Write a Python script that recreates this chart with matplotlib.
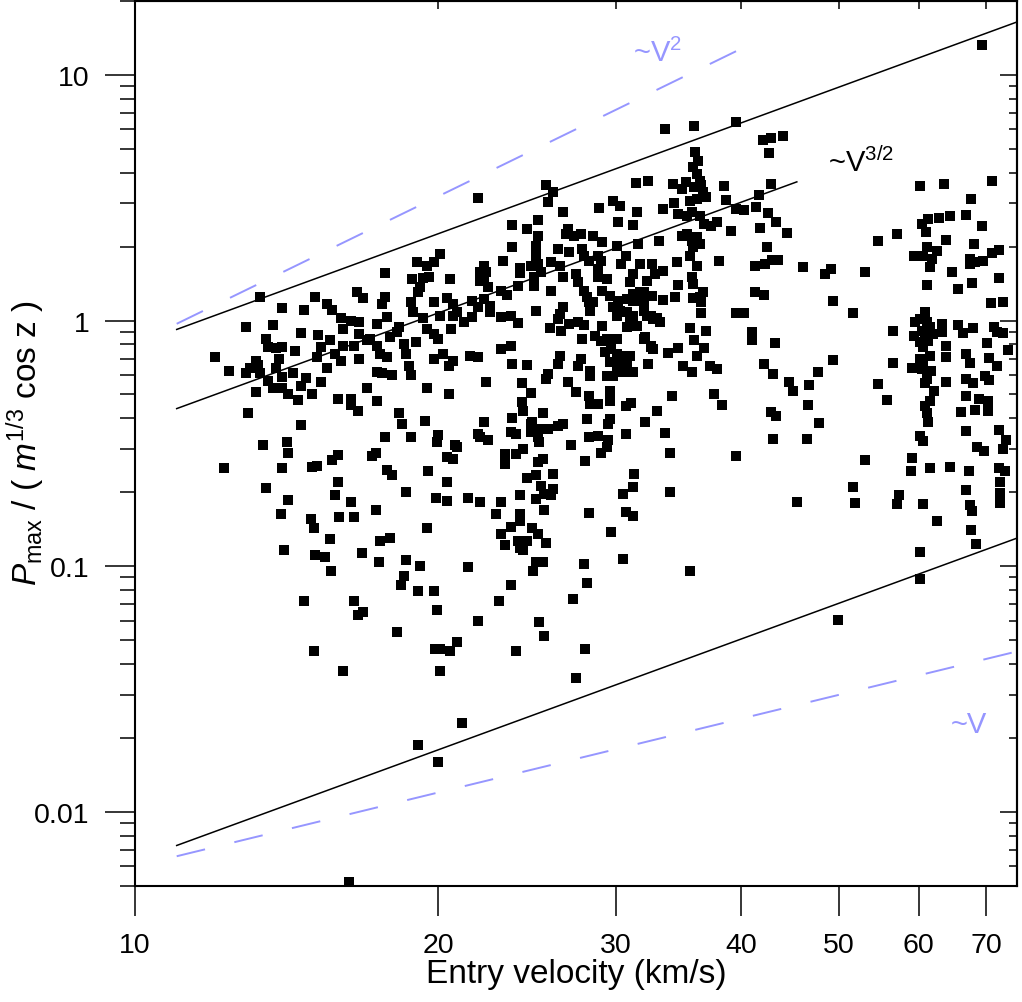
import matplotlib
matplotlib.use("Agg")
import matplotlib.pyplot as plt
from matplotlib.ticker import NullLocator, LogLocator, FixedLocator, NullFormatter

plt.rcParams['font.family'] = ['Liberation Sans', 'DejaVu Sans']
plt.rcParams['mathtext.fontset'] = 'custom'
plt.rcParams['mathtext.rm'] = 'Liberation Sans'
plt.rcParams['mathtext.it'] = 'Liberation Sans:italic'

# ---------------- data (entry velocity km/s, Pmax normalised) ----------------
v_slow = [13.3, 14.0, 14.7, 15.1, 12.9, 13.7, 14.6, 15.2, 15.6, 13.5,
          13.55, 13.8, 14.0, 13.9, 14.4, 12.0, 12.4, 13.2, 13.25, 13.0,
          12.9, 13.3, 13.8, 14.0, 14.35, 14.8, 13.55, 13.7, 13.2, 14.0,
          14.2, 14.5, 14.6, 15.0, 15.3, 15.5, 15.15, 15.3, 15.8, 16.1,
          16.0, 16.5, 16.7, 17.0, 16.6, 16.85, 15.5, 15.7, 16.0, 16.1,
          16.4, 16.7, 16.7, 17.6, 17.7, 17.4, 17.8, 17.1, 17.4, 17.5,
          17.8, 17.9, 18.2, 18.3, 18.5, 18.6, 18.7, 18.8, 19.0, 17.4,
          17.6, 18.0, 18.8, 19.1, 19.2, 18.9, 19.3, 19.5, 19.8, 20.0,
          19.8, 20.4, 20.7, 20.1, 20.7, 21.2, 20.6, 20.9, 19.8, 20.2,
          20.7, 20.5, 17.0, 17.4, 16.4, 16.4, 16.65, 15.9, 12.95, 14.6,
          18.3, 18.4, 19.5, 20.5, 19.4, 17.7, 18.8, 20.0, 19.95, 20.8,
          20.9, 13.4, 14.15, 14.2, 20.4, 20.7, 12.25, 14.0, 15.0, 15.15,
          15.7, 15.9, 17.2, 17.35, 17.8, 18.0, 19.55, 20.4, 13.5, 14.2,
          15.9, 15.8, 16.4, 18.6, 19.9, 20.4, 21.4, 13.95, 14.95, 15.05,
          15.95, 16.5, 17.35, 19.5, 15.6, 17.5, 17.9, 14.05, 15.1, 15.45,
          16.8, 17.45, 18.6, 19.2, 15.65, 18.5, 18.35, 19.1, 19.8, 21.4,
          14.7, 16.5, 16.85, 16.65, 19.95, 18.2, 15.05, 19.85, 20.1, 20.55,
          20.9, 16.1, 20.1, 21.1, 19.1, 20.0, 16.3,
          17.7, 18.85, 19.3, 19.6, 20.55, 19.05, 19.5, 19.8, 20.1]
p_slow = [1.25, 1.13, 1.10, 1.25, 0.94, 0.96, 0.89, 0.875, 0.83, 0.84,
          0.78, 0.77, 0.78, 0.70, 0.75, 0.71, 0.625, 0.685, 0.66, 0.64,
          0.61, 0.61, 0.64, 0.59, 0.61, 0.585, 0.57, 0.53, 0.51, 0.53,
          0.50, 0.475, 0.54, 0.50, 0.56, 0.64, 0.71, 0.78, 0.73, 0.79,
          0.685, 0.79, 0.70, 0.83, 1.31, 1.23, 1.17, 1.10, 1.02, 0.925,
          1.0, 0.99, 0.88, 1.17, 1.25, 0.97, 1.03, 0.84, 0.79, 0.73,
          0.71, 0.86, 0.90, 0.94, 0.80, 0.73, 0.655, 0.60, 0.82, 0.62,
          0.61, 0.60, 1.19, 1.31, 1.37, 1.08, 1.02, 0.925, 0.88, 0.84,
          1.19, 1.23, 1.17, 1.04, 1.04, 0.99, 0.925, 1.08, 0.70, 0.73,
          0.685, 0.65, 0.53, 0.47, 0.48, 0.455, 0.43, 0.48, 0.42, 0.377,
          0.42, 0.38, 0.53, 0.50, 0.39, 0.335, 0.335, 0.343, 0.32, 0.31,
          0.305, 0.31, 0.32, 0.29, 0.278, 0.273, 0.25, 0.25, 0.254, 0.256,
          0.27, 0.283, 0.28, 0.29, 0.246, 0.236, 0.244, 0.22, 0.208, 0.186,
          0.22, 0.194, 0.183, 0.20, 0.19, 0.185, 0.19, 0.163, 0.156, 0.143,
          0.159, 0.159, 0.17, 0.143, 0.129, 0.127, 0.13, 0.116, 0.111, 0.109,
          0.113, 0.104, 0.106, 0.10, 0.096, 0.091, 0.084, 0.079, 0.079, 0.099,
          0.072, 0.072, 0.065, 0.063, 0.066, 0.054, 0.045, 0.046, 0.046, 0.045,
          0.049, 0.0375, 0.0375, 0.023, 0.0187, 0.016, 0.0052,
          1.56, 1.48, 1.49, 1.51, 1.48, 1.73, 1.67, 1.73, 1.87]

v_mid = [33.6, 35.9, 39.5, 36.0, 36.2, 35.8, 36.1, 36.4, 35.9, 36.6,
         36.9, 36.1, 35.6, 36.5, 34.2, 34.9, 35.2, 34.3, 34.6, 35.3,
         35.7, 36.4, 36.7, 37.3, 37.8, 38.4, 38.6, 39.1, 39.5, 35.3,
         35.7, 36.1, 36.4, 35.8, 34.9, 35.6, 38.0, 36.1, 34.5, 35.7,
         35.8, 34.6, 36.6, 36.4, 35.8, 36.5, 34.4, 33.4, 36.5, 39.5,
         35.6, 36.9, 35.9, 36.7, 36.1, 34.6, 33.8, 35.0, 35.7, 37.2,
         37.8, 37.6, 38.3, 34.1, 33.0, 33.6, 32.1, 32.3, 32.5, 32.1,
         33.0, 32.5, 32.0, 31.5, 32.5, 32.0, 31.2, 32.6, 33.4, 32.8,
         32.2, 31.7, 31.2, 31.0, 30.7, 30.4, 30.1, 31.6, 33.1, 31.5,
         31.2, 30.2, 29.8, 30.3, 31.4, 32.3, 33.4, 28.9, 28.5, 29.1,
         27.8, 27.9, 28.2, 28.8, 29.0, 28.8, 28.8, 29.4, 27.7, 26.9,
         27.3, 26.8, 26.6, 25.1, 24.5, 25.1, 25.6, 26.0, 25.7, 23.7,
         21.9, 23.7, 25.0, 25.0, 25.1, 24.7, 25.3, 24.9, 24.9, 23.2,
         24.1, 24.1, 26.3, 27.0, 25.9, 26.4, 26.6, 27.4, 22.2, 22.0,
         22.3, 22.2, 22.0, 22.4, 23.1, 23.4, 24.0, 25.9, 27.5, 27.9,
         28.1, 28.2, 28.5, 28.3, 29.1, 29.6, 30.2, 29.8, 30.3, 30.8,
         31.2, 30.8, 31.2, 31.0, 30.8, 31.5, 32.0, 32.0, 32.25, 32.7,
         33.2, 31.7, 32.6, 30.1, 21.6, 21.9, 22.5, 22.5, 21.6, 22.2,
         23.1, 23.6, 24.0, 25.0, 26.6, 26.4, 26.3, 25.8, 26.5, 27.0,
         27.5, 27.9, 27.8, 29.1, 28.6, 29.0, 29.4, 30.1, 29.7, 29.3,
         30.1, 29.6, 30.2, 30.5, 31.0, 30.8, 31.2, 30.1, 29.4, 29.8,
         30.7, 30.4, 32.0, 32.5, 32.7, 21.5, 21.9, 23.1, 23.6, 23.7,
         24.5, 26.4, 26.3, 27.7, 27.5, 28.3, 28.3, 25.7, 25.6, 22.3,
         24.2, 26.9, 24.7, 27.4, 28.2, 29.6, 29.6, 28.3, 28.8, 30.7,
         31.1, 24.2, 24.3, 25.4, 24.8, 25.1, 24.7, 25.1, 25.7, 23.7,
         22.2, 23.6, 23.9, 26.3, 26.6, 28.1, 29.6, 29.5, 30.7, 28.8,
         28.2, 21.9, 22.0]
p_mid = [6.0, 6.2, 6.45, 4.85, 4.45, 4.2, 3.95, 3.7, 3.5, 3.33,
         3.18, 3.13, 3.06, 3.56, 3.6, 3.44, 3.67, 3.0, 2.72, 2.66,
         2.77, 2.66, 2.47, 2.42, 2.52, 3.53, 3.1, 2.32, 2.85, 2.25,
         2.11, 2.19, 2.05, 1.99, 2.21, 1.83, 1.75, 1.67, 1.73, 1.51,
         1.41, 1.39, 1.31, 1.25, 1.24, 1.19, 1.25, 1.21, 1.075, 1.075,
         0.935, 0.91, 0.835, 0.77, 0.72, 0.775, 0.74, 0.65, 0.62, 0.65,
         0.636, 0.50, 0.455, 0.495, 0.43, 0.35, 0.387, 0.667, 0.78, 0.86,
         1.02, 1.045, 1.12, 1.2, 1.26, 1.31, 1.285, 1.70, 1.59, 1.55,
         1.45, 1.70, 1.55, 1.44, 1.83, 1.70, 2.02, 2.05, 2.11, 2.77,
         2.45, 2.52, 3.06, 2.92, 3.63, 3.70, 2.85, 2.88, 2.21, 2.08,
         1.96, 1.83, 1.75, 1.83, 1.75, 1.62, 1.51, 1.48, 2.25, 2.36,
         2.21, 2.25, 2.77, 2.56, 2.36, 2.21, 3.56, 3.33, 3.03, 2.45,
         3.16, 2.0, 2.02, 1.83, 1.70, 1.67, 1.58, 1.51, 1.38, 1.75,
         1.64, 1.56, 1.96, 1.90, 1.73, 1.67, 1.51, 1.55, 1.67, 1.58,
         1.58, 1.48, 1.45, 1.37, 1.32, 1.27, 1.38, 1.32, 1.44, 1.32,
         1.25, 1.19, 1.19, 1.095, 1.32, 1.26, 1.2, 1.14, 1.095, 1.226,
         1.2, 1.085, 1.045, 0.99, 0.94, 0.95, 1.19, 1.095, 1.04, 1.016,
         0.99, 1.31, 1.26, 1.045, 1.2, 1.14, 1.15, 1.085, 1.035, 1.226,
         1.035, 1.045, 0.98, 1.095, 1.14, 1.065, 1.016, 0.935, 0.91, 0.97,
         0.99, 0.96, 0.842, 0.95, 0.866, 0.826, 0.842, 0.842, 0.767, 0.745,
         0.732, 0.678, 0.678, 0.718, 0.718, 0.654, 0.618, 0.618, 0.596, 0.596,
         0.618, 0.648, 0.842, 0.787, 0.767, 0.718, 0.71, 0.767, 0.787, 0.667,
         0.66, 0.718, 0.667, 0.698, 0.654, 0.624, 0.596, 0.607, 0.579, 0.563,
         0.558, 0.563, 0.508, 0.513, 0.494, 0.517, 0.47, 0.458, 0.458, 0.449,
         0.462, 0.466, 0.428, 0.42, 0.387, 0.362, 0.352, 0.336, 0.362, 0.402,
         0.387, 0.352, 0.346, 0.372, 0.38, 0.398, 0.398, 0.38, 0.346, 0.34,
         0.336, 0.346, 0.336]

v_low = [22.4, 24.7, 25.2, 27.1, 29.5, 29.4, 29.0, 34.0, 23.3, 23.3,
         23.9, 24.3, 25.1, 25.4, 28.0, 24.5, 25.0, 26.0, 25.3, 25.5,
         26.0, 25.9, 25.0, 24.1, 22.0, 23.1, 22.8, 24.1, 24.1, 25.5,
         28.2, 31.3, 31.2, 30.5, 34.0, 30.7, 31.2, 23.6, 23.1, 24.8,
         25.1, 23.3, 24.0, 24.5, 24.1, 24.3, 25.6, 29.7, 39.5, 25.0,
         25.4, 24.85, 27.9, 30.5, 35.6, 23.6, 28.1, 23.0, 27.2, 21.9,
         25.2, 25.5, 23.9, 28.0, 27.4]
p_low = [0.326, 0.38, 0.32, 0.31, 0.326, 0.307, 0.29, 0.29, 0.286, 0.26,
         0.286, 0.30, 0.265, 0.273, 0.268, 0.229, 0.236, 0.238, 0.212, 0.197,
         0.206, 0.194, 0.188, 0.195, 0.182, 0.182, 0.163, 0.163, 0.153, 0.17,
         0.165, 0.238, 0.21, 0.197, 0.20, 0.166, 0.16, 0.145, 0.135, 0.143,
         0.135, 0.122, 0.127, 0.127, 0.118, 0.116, 0.124, 0.138, 0.28, 0.104,
         0.104, 0.096, 0.102, 0.107, 0.096, 0.084, 0.0855, 0.072, 0.0736, 0.060,
         0.059, 0.052, 0.045, 0.046, 0.035]

v_fast = [69.3, 42.0, 42.8, 44.0, 42.6, 42.8, 41.6, 40.2, 41.4, 42.5,
          43.3, 41.7, 44.4, 42.4, 41.3, 42.2, 42.9, 43.5, 46.0, 48.4,
          49.1, 53.1, 41.3, 42.1, 49.3, 40.2, 51.6, 41.0, 41.0, 43.2,
          42.1, 43.0, 44.6, 45.0, 46.7, 47.6, 49.3, 46.6, 42.8, 43.3,
          47.8, 43.0, 46.5, 53.1, 45.4, 51.6, 51.8, 57.4, 57.1, 60.6,
          62.6, 56.6, 56.6, 54.6, 55.8, 54.7, 57.1, 60.2, 63.6, 71.0,
          67.6, 60.5, 61.3, 62.8, 64.5, 61.0, 66.9, 69.3, 63.9, 68.1,
          61.2, 62.6, 59.3, 60.6, 61.9, 61.6, 67.5, 68.3, 69.5, 71.0,
          72.0, 67.5, 64.8, 61.2, 65.6, 67.8, 72.1, 70.8, 72.8, 60.9,
          60.2, 59.5, 61.2, 61.6, 60.5, 59.3, 60.9, 62.0, 60.2, 61.3,
          60.6, 63.3, 63.3, 65.6, 66.4, 67.9, 71.2, 71.8, 72.8, 63.8,
          70.2, 73.5, 60.2, 61.6, 60.6, 59.1, 60.5, 61.7, 63.9, 66.8,
          67.5, 70.4, 71.8, 60.9, 61.2, 63.8, 62.1, 66.8, 67.9, 69.8,
          70.4, 60.9, 61.6, 61.2, 61.3, 66.8, 68.9, 70.3, 68.3, 70.3,
          66.1, 60.2, 60.6, 66.8, 72.1, 73.3, 72.8, 68.6, 69.6, 59.1,
          59.0, 61.5, 64.5, 67.3, 72.1, 73.0, 72.3, 66.9, 72.3, 72.3,
          67.5, 67.8, 67.6, 68.4, 60.2, 60.2, 49.9]
p_fast = [13.2, 5.45, 5.55, 5.65, 4.8, 3.6, 3.25, 2.82, 2.9, 2.74,
          2.52, 2.38, 2.27, 1.99, 1.67, 1.70, 1.76, 1.76, 1.65, 1.55,
          1.62, 1.58, 1.31, 1.27, 1.2, 1.075, 1.075, 0.90, 0.835, 0.81,
          0.667, 0.607, 0.563, 0.517, 0.548, 0.618, 0.69, 0.453, 0.424, 0.41,
          0.383, 0.33, 0.33, 0.27, 0.183, 0.21, 0.18, 0.194, 0.179, 0.179,
          0.152, 0.91, 0.674, 0.553, 0.475, 2.11, 2.25, 3.53, 3.6, 3.7,
          3.13, 2.47, 2.59, 2.62, 2.66, 2.29, 2.69, 2.43, 2.13, 2.04,
          1.99, 1.92, 1.83, 1.83, 1.78, 1.65, 1.78, 1.73, 1.75, 1.88,
          1.94, 1.70, 1.58, 1.39, 1.35, 1.42, 1.49, 1.18, 1.19, 1.085,
          1.016, 0.99, 0.99, 0.942, 0.908, 0.866, 0.866, 0.883, 0.818, 0.826,
          0.78, 0.97, 0.90, 0.96, 0.89, 0.935, 0.942, 0.90, 0.89, 0.787,
          0.81, 0.76, 0.698, 0.718, 0.674, 0.642, 0.636, 0.624, 0.71, 0.732,
          0.674, 0.705, 0.654, 0.558, 0.579, 0.563, 0.517, 0.579, 0.558, 0.596,
          0.574, 0.449, 0.47, 0.42, 0.387, 0.494, 0.48, 0.47, 0.432, 0.428,
          0.424, 0.34, 0.323, 0.355, 0.358, 0.326, 0.30, 0.305, 0.295, 0.276,
          0.245, 0.251, 0.254, 0.245, 0.251, 0.245, 0.22, 0.204, 0.199, 0.18,
          0.177, 0.168, 0.141, 0.123, 0.114, 0.0888, 0.0604]

# reference power-law lines (end points)
upper_v, upper_p = [11, 75], [0.92, 16.4]
middle_v, middle_p = [11, 45.4], [0.438, 3.67]
lower_v, lower_p = [11, 75], [0.00729, 0.1298]
sq_v, sq_p = [11, 40], [0.97, 12.8]
lin_v, lin_p = [11, 75], [0.00659, 0.0449]

xticks = [10, 20, 30, 40, 50, 60, 70]
yticks = [0.01, 0.1, 1, 10]
ytick_labels = ['0.01', '0.1', '1', '10']

# ---------------- figure ----------------
fig = plt.figure(figsize=(10.22, 10.03), dpi=100)
ax = fig.add_axes([135 / 1022, (1003 - 886.7) / 1003, (1017 - 135) / 1022, (886.7 - 2) / 1003])
ax.set_xscale('log')
ax.set_yscale('log')
ax.set_xlim(10, 75.1)
ax.set_ylim(0.005, 20)

blue = '#9696ff'
ax.plot(sq_v, sq_p, color=blue, lw=1.4, dashes=(15, 15.5))
ax.plot(lin_v, lin_p, color=blue, lw=1.4, dashes=(15, 15.5))
ax.plot(upper_v, upper_p, color='black', lw=1.1)
ax.plot(middle_v, middle_p, color='black', lw=1.1)
ax.plot(lower_v, lower_p, color='black', lw=1.1)

for vv, pp in [(v_slow, p_slow), (v_mid, p_mid), (v_low, p_low), (v_fast, p_fast)]:
    ax.scatter(vv, pp, marker='s', s=50, c='black', linewidths=0, zorder=3)

ax.text(33.0, 12.4, r'~V$^{2}$', color=blue, fontsize=21, ha='center', va='center')
ax.text(52.6, 4.43, r'~V$^{3/2}$', color='black', fontsize=21, ha='center', va='center')
ax.text(67.3, 0.0228, '~V', color=blue, fontsize=21, ha='center', va='center')

# ticks
ax.xaxis.set_major_locator(FixedLocator(xticks))
ax.xaxis.set_minor_locator(NullLocator())
ax.set_xticklabels([str(t) for t in xticks])
ax.yaxis.set_major_locator(FixedLocator(yticks))
ax.set_yticklabels(ytick_labels)
ax.yaxis.set_minor_locator(LogLocator(base=10, subs=range(2, 10)))
ax.yaxis.set_minor_formatter(NullFormatter())
ax.tick_params(axis='both', which='major', direction='out', length=21.6, width=1.1,
               labelsize=20.5)
ax.tick_params(axis='x', which='major', pad=12)
ax.tick_params(axis='y', which='major', pad=11)
ax.tick_params(axis='y', which='minor', direction='out', length=10.8, width=1.1)
ax.tick_params(top=False, right=False)

secx = ax.secondary_xaxis('top')
secx.xaxis.set_major_locator(FixedLocator(xticks))
secx.xaxis.set_minor_locator(NullLocator())
secx.tick_params(direction='in', length=6, width=1.1, labeltop=False)
secx.spines['top'].set_linewidth(1.5)

secy = ax.secondary_yaxis('right')
secy.yaxis.set_major_locator(FixedLocator(yticks))
secy.yaxis.set_minor_locator(LogLocator(base=10, subs=range(2, 10)))
secy.yaxis.set_minor_formatter(NullFormatter())
secy.tick_params(which='major', direction='in', length=12, width=1.1, labelright=False)
secy.tick_params(which='minor', direction='in', length=6, width=1.1)
secy.spines['right'].set_linewidth(1.5)

for s in ax.spines.values():
    s.set_linewidth(1.5)

fig.text(576 / 1022, 1 - 975 / 1003, 'Entry velocity (km/s)', fontsize=24,
         ha='center', va='center')
fig.text(26 / 1022, 1 - 443 / 1003, r'$P_{\mathrm{max}}$ / ( $m^{1/3}$ cos z )',
         fontsize=24, rotation=90, ha='center', va='center')

fig.savefig('out.png', dpi=100)
